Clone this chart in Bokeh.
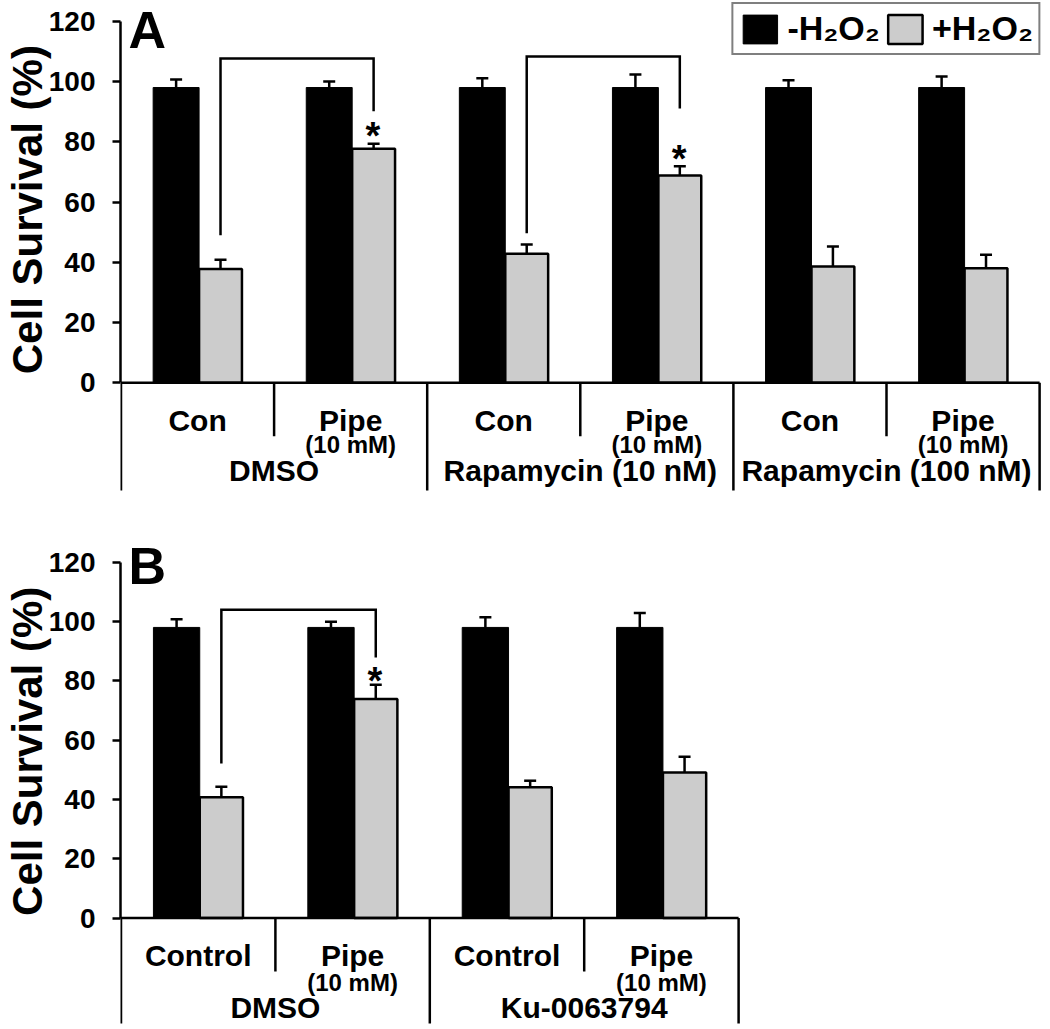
from bokeh.plotting import figure
from bokeh.layouts import column
from bokeh.models import (Range1d, FixedTicker, Whisker, TeeHead, Legend, LegendItem,
                          Label, ColumnDataSource)
from bokeh.core.properties import value
from bokeh.embed import file_html
from bokeh.resources import INLINE

FONT = "Liberation Sans"
GRAY = "#CCCCCC"
NBSP = "\u00a0"

# ---------------- data ----------------
y_ticks = [0, 20, 40, 60, 80, 100, 120]
y_title = "Cell Survival (%)"
series_names = ["-H\u2082O\u2082", "+H\u2082O\u2082"]
dose_label = "(10 mM)"

# Panel A
a_groups = ["DMSO", "Rapamycin (10 nM)", "Rapamycin (100 nM)"]
a_treatments = ["Con", "Pipe", "Con", "Pipe", "Con", "Pipe"]
a_minus_mean = [98, 98, 98, 98, 98, 98]
a_minus_err = [2.7, 2.0, 3.1, 4.3, 2.4, 3.7]
a_plus_mean = [37.8, 77.7, 42.8, 68.8, 38.6, 38.0]
a_plus_err = [3.0, 1.6, 3.1, 3.1, 6.6, 4.5]
a_signif = [False, True, False, True, False, False]
# (left category, right category, left end, top, right end)
a_brackets = [(0, 1, 49.0, 107.6, 90.1), (2, 3, 49.6, 108.3, 91.0)]

# Panel B
b_groups = ["DMSO", "Ku-0063794"]
b_treatments = ["Control", "Pipe", "Control", "Pipe"]
b_minus_mean = [98, 98, 98, 98]
b_minus_err = [2.8, 1.9, 3.4, 4.9]
b_plus_mean = [40.7, 73.9, 44.1, 49.1]
b_plus_err = [3.6, 4.8, 2.2, 5.3]
b_signif = [False, True, False, False]
b_brackets = [(0, 1, 52.1, 104.0, 87.9)]


def make_panel(letter, groups, treatments, minus_m, minus_e, plus_m, plus_e, signif,
               brackets, unit_px, zero_px, ppu, frame_h, fig_h, long_px, letter_px,
               label_px, title_pad, star_px, with_legend):
    n = len(treatments)
    per_group = n // len(groups)
    x_start = -0.5 / unit_px
    frame_w = int(round(n * unit_px + 3))
    x_end = x_start + frame_w / unit_px
    y_end = zero_px / ppu
    y_start = y_end - frame_h / ppu

    p = figure(frame_width=frame_w, frame_height=frame_h,
               x_range=Range1d(x_start, x_end), y_range=Range1d(y_start, y_end),
               output_backend="svg", toolbar_location=None, x_axis_location=None,
               min_border_left=115, min_border_right=0, min_border_top=0,
               min_border_bottom=fig_h - frame_h)
    p.grid.visible = False
    p.outline_line_color = None
    p.background_fill_color = "white"
    p.border_fill_color = "white"

    yax = p.yaxis[0]
    yax.ticker = FixedTicker(ticks=y_ticks)
    yax.bounds = (0, 120)
    yax.axis_line_width = 2.5
    yax.axis_line_color = "black"
    yax.major_tick_line_width = 2.5
    yax.major_tick_line_color = "black"
    yax.major_tick_out = 8
    yax.major_tick_in = 0
    yax.minor_tick_line_color = None
    yax.major_label_standoff = 17
    yax.major_label_text_font = FONT
    yax.major_label_text_font_style = "bold"
    yax.major_label_text_font_size = "28px"
    yax.major_label_text_color = "black"
    # leading no-break spaces lift the frame-centred title onto the 0-120 span
    yax.axis_label = NBSP * title_pad + y_title
    yax.axis_label_text_font = FONT
    yax.axis_label_text_font_style = "bold"
    yax.axis_label_text_font_size = "42px"
    yax.axis_label_text_color = "black"
    yax.axis_label_standoff = -5

    idx = list(range(n))
    src = ColumnDataSource(dict(
        xb=[i + 0.36 for i in idx], xg=[i + 0.65 for i in idx],
        mm=minus_m, mu=[m + e for m, e in zip(minus_m, minus_e)],
        pm=plus_m, pu=[m + e for m, e in zip(plus_m, plus_e)],
    ))
    rb = p.vbar(x="xb", top="mm", bottom=0, width=0.30, source=src,
                fill_color="black", line_color="black", line_width=1)
    rg = p.vbar(x="xg", top="pm", bottom=0, width=0.28, source=src,
                fill_color=GRAY, line_color="black", line_width=2.5)

    for xcol, lo, hi in (("xb", "mm", "mu"), ("xg", "pm", "pu")):
        p.add_layout(Whisker(source=src, base=xcol, lower=lo, upper=hi,
                             dimension="height", line_width=2.5, line_color="black",
                             upper_head=TeeHead(size=12, line_width=2.5, line_color="black"),
                             lower_head=None))

    # baseline and category separators
    p.segment(x0=[0], y0=[0], x1=[n], y1=[0], line_color="black", line_width=2.5)
    short_len = -53.5 / ppu
    long_len = -long_px / ppu
    sep_x = list(range(n + 1))
    sep_y = [long_len if b % per_group == 0 else short_len for b in sep_x]
    p.segment(x0=sep_x, y0=[0] * len(sep_x), x1=sep_x, y1=sep_y,
              line_color="black", line_width=2.5)

    # category labels (centres given in px below the zero line)
    cat_px, dose_px, grp_px = label_px
    txt = dict(text_font=value(FONT), text_font_style="bold", text_color="black",
               text_align="center", text_baseline="middle")
    p.text(x=[i + 0.5 for i in idx], y=[-cat_px / ppu] * n, text=treatments,
           text_font_size="30px", **txt)
    pipe_x = [i + 0.5 for i, t in enumerate(treatments) if t == "Pipe"]
    p.text(x=pipe_x, y=[-dose_px / ppu] * len(pipe_x), text=[dose_label] * len(pipe_x),
           text_font_size="24px", **txt)
    gx = [g * per_group + per_group / 2 for g in range(len(groups))]
    p.text(x=gx, y=[-grp_px / ppu] * len(groups), text=groups,
           text_font_size="30px", **txt)

    # brackets and significance stars
    bx, by = [], []
    for l, r, yl, yt, yr in brackets:
        bx.append([l + 0.65, l + 0.65, r + 0.65, r + 0.65])
        by.append([yl, yt, yt, yr])
    p.multi_line(xs=bx, ys=by, line_color="black", line_width=2.5, line_join="miter")
    sx = [i + 0.645 for i in idx if signif[i]]
    sy = [plus_m[i] + plus_e[i] + star_px / ppu for i in idx if signif[i]]
    p.text(x=sx, y=sy, text=["*"] * len(sx), text_font_size="38px", **txt)

    p.add_layout(Label(x=0.049, y=letter_px / ppu, text=letter,
                       text_font=FONT, text_font_style="bold", text_font_size="52px",
                       text_baseline="middle", text_color="black"))

    if with_legend:
        lg = Legend(items=[LegendItem(label=series_names[0], renderers=[rb]),
                           LegendItem(label=series_names[1], renderers=[rg])],
                    location="top_right", orientation="horizontal", margin=2,
                    padding=5, spacing=3, label_standoff=6,
                    glyph_width=43, glyph_height=36,
                    label_text_font=FONT, label_text_font_style="bold",
                    label_text_font_size="34px", label_text_color="black",
                    border_line_color="black", border_line_width=2.5,
                    background_fill_color="white", background_fill_alpha=1.0)
        p.add_layout(lg)
    return p


# panel A occupies y 0..535, panel B 535..1025
pA = make_panel("A", a_groups, a_treatments, a_minus_mean, a_minus_err, a_plus_mean,
                a_plus_err, a_signif, a_brackets, unit_px=153.1, zero_px=382.3,
                ppu=3.013, frame_h=500, fig_h=535, long_px=107.7, letter_px=352.8,
                label_px=(37.7, 61.7, 87.7), title_pad=7, star_px=7.5, with_legend=True)
pB = make_panel("B", b_groups, b_treatments, b_minus_mean, b_minus_err, b_plus_mean,
                b_plus_err, b_signif, b_brackets, unit_px=154.4, zero_px=382.5,
                ppu=2.965, frame_h=490, fig_h=490, long_px=105.5, letter_px=352.5,
                label_px=(37.5, 64.0, 89.0), title_pad=5, star_px=3.5, with_legend=False)

layout = column(pA, pB, spacing=0)

with open("out.html", "w") as f:
    f.write(file_html(layout, INLINE))
